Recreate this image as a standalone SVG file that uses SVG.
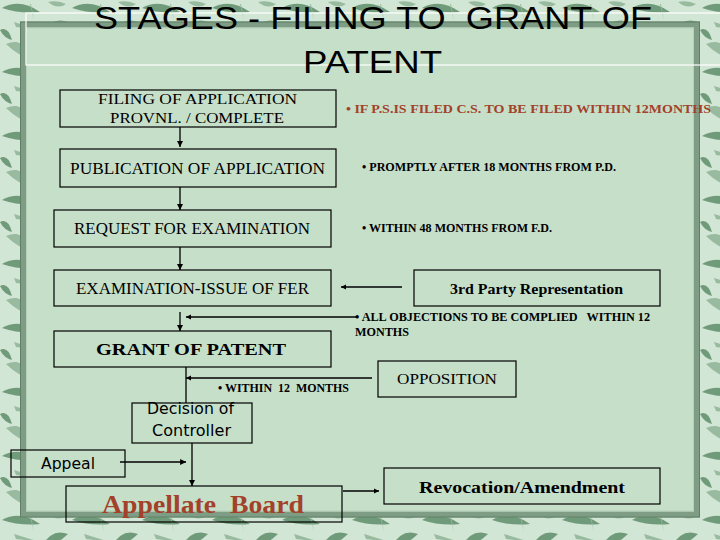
<svg xmlns="http://www.w3.org/2000/svg" width="720" height="540" viewBox="0 0 720 540">
<defs>
<style>
.bx{fill:none;stroke:#000;stroke-width:1.2}
.t{font-family:"Liberation Serif","Times New Roman",serif;fill:#000;white-space:pre}
.b{font-weight:bold}
.s{font-family:"DejaVu Sans","Liberation Sans",sans-serif;fill:#000;white-space:pre}
.h{font-family:"Liberation Sans",Arial,sans-serif;fill:#000;white-space:pre}
.red{fill:#a3412a}
.ln{stroke:#000;stroke-width:1.3;fill:none}
.lf{fill:#709b7a}
.lf2{fill:#98bb9f}
</style>
<marker id="ah" viewBox="0 0 10 10" refX="10" refY="5" markerWidth="5" markerHeight="5" markerUnits="strokeWidth" orient="auto">
<path d="M0,0 L10,5 L0,10 z" fill="#000"/>
</marker>
<marker id="ahb" viewBox="0 0 10 10" refX="10" refY="5" markerWidth="4" markerHeight="5" markerUnits="strokeWidth" orient="auto">
<path d="M0,0 L10,5 L0,10 z" fill="#000"/>
</marker>
<marker id="ahl" viewBox="0 0 10 10" refX="10" refY="5" markerWidth="4.5" markerHeight="4.5" markerUnits="strokeWidth" orient="auto">
<path d="M0,0 L10,5 L0,10 z" fill="#000"/>
</marker>
<pattern id="leaves" width="70" height="64" patternUnits="userSpaceOnUse">
<rect width="70" height="64" fill="#d2e6d5"/>
<path class="lf" d="M2,8 Q20,-2 40,12 Q20,14 2,8 z"/>
<path class="lf" d="M42,34 Q52,16 68,22 Q56,34 42,34 z"/>
<path class="lf2" d="M6,44 Q24,36 34,60 Q18,56 6,44 z"/>
<path class="lf" d="M46,50 Q58,44 70,60 Q56,60 46,50 z"/>
<path class="lf2" d="M14,22 L40,30 L16,27 z"/>
<path class="lf" d="M24,32 Q30,40 22,52 Q18,42 24,32 z"/>
<path class="lf2" d="M48,2 Q58,10 66,4 Q58,0 48,2 z"/>
<path class="lf" d="M0,30 Q8,26 12,40 Q4,38 0,30 z"/>
<path class="lf2" d="M30,4 L34,20 L31,4 z"/>
<path class="lf" d="M36,44 L60,40 L38,47 z"/>
</pattern>
</defs>

<g id="background">
<rect x="0" y="0" width="720" height="540" fill="url(#leaves)"/>
<rect x="23" y="24.5" width="674" height="490" fill="#c6dfc9" stroke="#7e9d84" stroke-width="6"/>
<rect x="20.5" y="22" width="679" height="495" fill="none" stroke="#5f7f66" stroke-width="1"/>
<rect x="26.5" y="28" width="667" height="483" fill="none" stroke="#b5cfb9" stroke-width="1"/>
<rect x="26" y="13" width="720" height="52" fill="none" stroke="#ffffff" stroke-width="1.2"/>
</g>

<g id="title">
<text class="h" x="94" y="29" font-size="32" textLength="558" lengthAdjust="spacingAndGlyphs">STAGES - FILING TO  GRANT OF</text>
<text class="h" x="303" y="73" font-size="32" textLength="139" lengthAdjust="spacingAndGlyphs">PATENT</text>
</g>

<g id="connectors">
<line class="ln" x1="180" y1="127" x2="180" y2="147" marker-end="url(#ah)"/>
<line class="ln" x1="180" y1="187" x2="180" y2="210" marker-end="url(#ah)"/>
<line class="ln" x1="180" y1="247" x2="180" y2="270" marker-end="url(#ah)"/>
<line class="ln" x1="402" y1="287" x2="341" y2="287" stroke-width="2" marker-end="url(#ahb)"/>
<line class="ln" x1="180" y1="312" x2="180" y2="331" marker-end="url(#ah)"/>
<line class="ln" x1="358" y1="317" x2="186" y2="317" stroke-width="2" marker-end="url(#ahb)"/>
<line class="ln" x1="186" y1="367" x2="186" y2="403" stroke-width="1"/>
<line class="ln" x1="372" y1="378" x2="186" y2="378" stroke-width="2" marker-end="url(#ahb)"/>
<line class="ln" x1="192" y1="443" x2="192" y2="486" stroke-width="1.2" marker-end="url(#ah)"/>
<line class="ln" x1="120" y1="462" x2="186" y2="462" stroke-width="2.2" marker-end="url(#ahl)"/>
<line class="ln" x1="343" y1="491" x2="379" y2="491" stroke-width="2" marker-end="url(#ahb)"/>
</g>

<g id="filing">
<rect class="bx" x="60" y="90" width="276" height="37"/>
<text class="t" x="98" y="104" font-size="15" textLength="199" lengthAdjust="spacingAndGlyphs">FILING OF APPLICATION</text>
<text class="t" x="110" y="123" font-size="15" textLength="174" lengthAdjust="spacingAndGlyphs">PROVNL. / COMPLETE</text>
</g>
<g id="note-filing">
<text class="t b red" x="346" y="113" font-size="13" textLength="365" lengthAdjust="spacingAndGlyphs">• IF P.S.IS FILED C.S. TO BE FILED WITHIN 12MONTHS</text>
</g>

<g id="publication">
<rect class="bx" x="60" y="149" width="276" height="38"/>
<text class="t" x="70" y="174" font-size="16" textLength="255" lengthAdjust="spacingAndGlyphs">PUBLICATION OF APPLICATION</text>
</g>
<g id="note-publication">
<text class="t b" x="362" y="171" font-size="12" textLength="254" lengthAdjust="spacingAndGlyphs">• PROMPTLY AFTER 18 MONTHS FROM P.D.</text>
</g>

<g id="request">
<rect class="bx" x="54" y="210" width="277" height="37"/>
<text class="t" x="74" y="234" font-size="16" textLength="236" lengthAdjust="spacingAndGlyphs">REQUEST FOR EXAMINATION</text>
</g>
<g id="note-request">
<text class="t b" x="362" y="232" font-size="12" textLength="190" lengthAdjust="spacingAndGlyphs">• WITHIN 48 MONTHS FROM F.D.</text>
</g>

<g id="examination">
<rect class="bx" x="54" y="270" width="277" height="36"/>
<text class="t" x="76" y="294" font-size="16" textLength="233" lengthAdjust="spacingAndGlyphs">EXAMINATION-ISSUE OF FER</text>
</g>

<g id="third-party">
<rect class="bx" x="414" y="270" width="246" height="36"/>
<text class="t b" x="450" y="294" font-size="15" textLength="173" lengthAdjust="spacingAndGlyphs">3rd Party Representation</text>
</g>

<g id="note-objections">
<text class="t b" x="355" y="321" font-size="12" textLength="295" lengthAdjust="spacingAndGlyphs">• ALL OBJECTIONS TO BE COMPLIED   WITHIN 12</text>
<text class="t b" x="355" y="336" font-size="12" textLength="54" lengthAdjust="spacingAndGlyphs">MONTHS</text>
</g>

<g id="grant">
<rect class="bx" x="54" y="331" width="277" height="36"/>
<text class="t b" x="96" y="355" font-size="17" textLength="190" lengthAdjust="spacingAndGlyphs">GRANT OF PATENT</text>
</g>

<g id="note-opposition">
<text class="t b" x="218" y="392" font-size="12" textLength="131" lengthAdjust="spacingAndGlyphs">• WITHIN  12  MONTHS</text>
</g>

<g id="opposition">
<rect class="bx" x="378" y="361" width="138" height="36"/>
<text class="t" x="397" y="384" font-size="15" textLength="100" lengthAdjust="spacingAndGlyphs">OPPOSITION</text>
</g>

<g id="decision">
<rect class="bx" x="132" y="403" width="120" height="40"/>
<text class="s" x="147" y="414" font-size="15" textLength="87" lengthAdjust="spacingAndGlyphs">Decision of</text>
<text class="s" x="152" y="436" font-size="15" textLength="79" lengthAdjust="spacingAndGlyphs">Controller</text>
</g>

<g id="appeal">
<rect class="bx" x="11" y="450" width="114" height="27"/>
<text class="s" x="41" y="469" font-size="15" textLength="54" lengthAdjust="spacingAndGlyphs">Appeal</text>
</g>

<g id="appellate-board">
<rect class="bx" x="66" y="486" width="276" height="36"/>
<text class="t b red" x="102" y="513" font-size="26" textLength="202" lengthAdjust="spacingAndGlyphs">Appellate  Board</text>
</g>

<g id="revocation">
<rect class="bx" x="384" y="468" width="276" height="36"/>
<text class="t b" x="419" y="493" font-size="17" textLength="206" lengthAdjust="spacingAndGlyphs">Revocation/Amendment</text>
</g>
</svg>
